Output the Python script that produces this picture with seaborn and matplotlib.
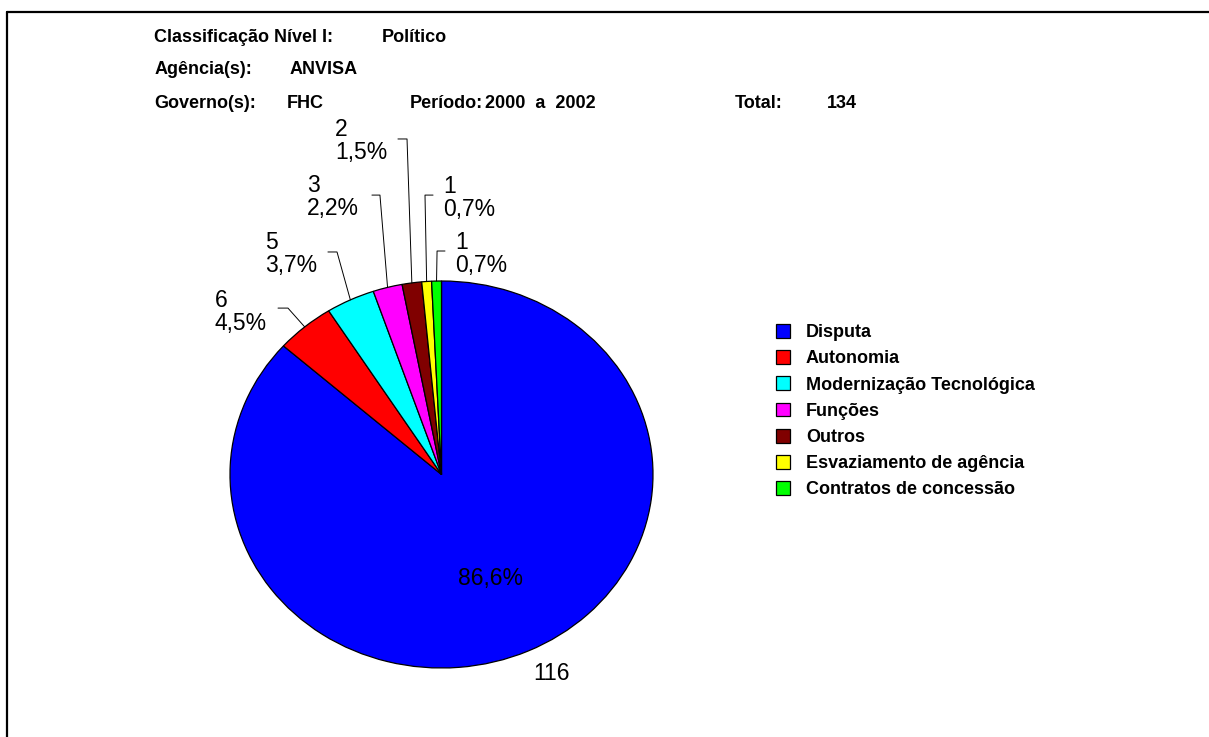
import matplotlib
matplotlib.use("Agg")
import matplotlib.pyplot as plt
import seaborn as sns
import numpy as np

sns.set_theme(style="white")
plt.rcParams['font.family'] = ['Liberation Sans', 'DejaVu Sans']
plt.rcParams['text.color'] = 'black'

# ---- data ----
categories = ["Disputa", "Autonomia", "Modernização Tecnológica", "Funções",
              "Outros", "Esvaziamento de agência", "Contratos de concessão"]
counts = [116, 6, 5, 3, 2, 1, 1]
pct_labels = ["86,6%", "4,5%", "3,7%", "2,2%", "1,5%", "0,7%", "0,7%"]
colors = ["#0000FF", "#FF0000", "#00FFFF", "#FF00FF", "#800000", "#FFFF00", "#00FF00"]

header_rows = [
    [("Classificação Nível I:", 154), ("Político", 382)],
    [("Agência(s):", 155), ("ANVISA", 290)],
    [("Governo(s):", 154), ("FHC", 287), ("Período:", 410), ("2000  a  2002", 485),
     ("Total:", 735), ("134", 827)],
]
header_y = [38, 70, 103]

W, H = 1209, 737
fig = plt.figure(figsize=(W / 100, H / 100), dpi=100)
fig.patch.set_facecolor("white")

# frame (top and left edges visible)
fig.add_artist(plt.Line2D([7 / W, 1.0], [1 - 12 / H, 1 - 12 / H], color="black", lw=1.6,
                          transform=fig.transFigure))
fig.add_artist(plt.Line2D([7 / W, 7 / W], [1 - 12 / H, 0.0], color="black", lw=1.6,
                          transform=fig.transFigure))

# pie axes (elliptical pie)
px0, px1, py0, py1 = 230, 653, 281, 668
ax = fig.add_axes([px0 / W, 1 - py1 / H, (px1 - px0) / W, (py1 - py0) / H])
wedges, _ = ax.pie(counts, colors=colors, startangle=90, counterclock=False,
                   wedgeprops=dict(edgecolor="black", linewidth=0.9))
ax.set_aspect("auto")
ax.set_xlim(-1, 1)
ax.set_ylim(-1, 1)
ax.axis("off")

# mid angles of wedges
frac = np.cumsum([0] + counts) / sum(counts)
mid = [np.deg2rad(90 - 360 * (frac[i] + frac[i + 1]) / 2) for i in range(len(counts))]

# big slice labels
ax.text(0.234, -0.535, pct_labels[0], fontsize=16.5, ha="center", va="center", color="black")
ax.text(0.522, -1.031, str(counts[0]), fontsize=16.5, ha="center", va="center", color="black",
        clip_on=False)

# small slice labels: (text left x, text mid y, elbow x_text, elbow x, elbow y)
label_layout = {
    1: (-1.071, 0.842, -0.773, -0.726, 0.860),
    2: (-0.835, 1.137, -0.537, -0.494, 1.150),
    3: (-0.636, 1.434, -0.329, -0.291, 1.444),
    4: (-0.504, 1.726, -0.206, -0.163, 1.734),
    5: (0.007, 1.431, -0.040, -0.078, 1.444),
    6: (0.064, 1.140, 0.0165, -0.021, 1.155),
}
for i, (tx, ty, ex0, ex1, ey) in label_layout.items():
    ax.text(tx, ty, f"{counts[i]}\n{pct_labels[i]}", fontsize=16.5, ha="left", va="center",
            linespacing=1.0, color="black", clip_on=False)
    xe, ye = np.cos(mid[i]), np.sin(mid[i])
    ax.plot([ex0, ex1, xe], [ey, ey, ye], color="black", lw=0.7, clip_on=False)

# header texts
for row, y in zip(header_rows, header_y):
    for txt, x in row:
        fig.text(x / W, 1 - y / H, txt, fontsize=13, fontweight="bold", ha="left",
                 va="center", color="black")

# legend
leg = fig.legend(wedges, categories, loc="upper left",
                 bbox_to_anchor=(776 / W, 1 - 324 / H), frameon=False,
                 prop=dict(size=13, weight="bold"), handlelength=0.8, handleheight=0.8,
                 handletextpad=0.85, labelspacing=0.5, borderpad=0, borderaxespad=0)
for t in leg.get_texts():
    t.set_color("black")

fig.savefig("out.png", dpi=100, facecolor="white")
